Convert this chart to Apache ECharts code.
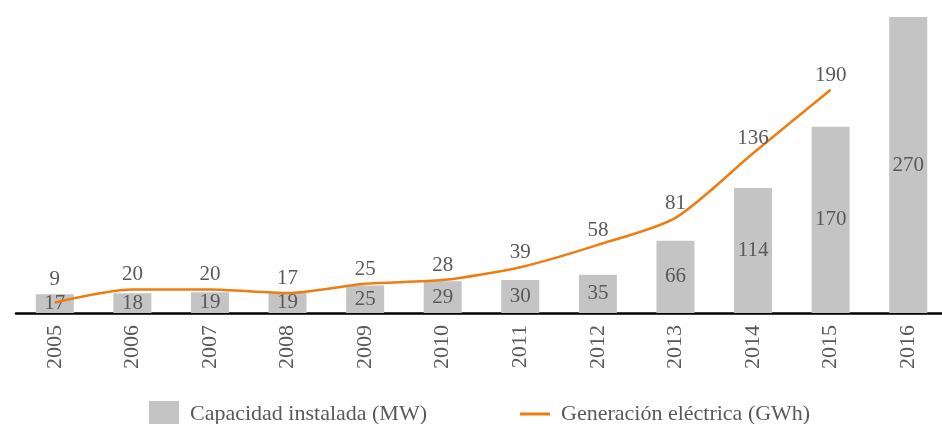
<!DOCTYPE html>
<html>
<head>
<meta charset="utf-8">
<script src="https://cdn.jsdelivr.net/npm/echarts@6/dist/echarts.min.js"></script>
<style>
html, body { margin: 0; padding: 0; background: #fff; }
#chart { width: 942px; height: 424px; }
</style>
</head>
<body>
<div id="chart"></div>
<script>
var years = ["2005", "2006", "2007", "2008", "2009", "2010", "2011", "2012", "2013", "2014", "2015", "2016"];
var capacidad = [17, 18, 19, 19, 25, 29, 30, 35, 66, 114, 170, 270];
var generacion = [9, 20, 20, 17, 25, 28, 39, 58, 81, 136, 190, null];

var font = "'Liberation Serif', 'DejaVu Serif', serif";
var txt = "#595959";
var naranja = "#EE7D11";

// first label sits a bit higher, clear of the bar label below it
var genData = generacion.map(function(v, i) {
	return i === 0 ? { value : v, label : { distance : 12 } } : v;
});

var chart = echarts.init(document.getElementById("chart"));
var option = {
	animation : false,
	textStyle : { fontFamily : font },
	grid : {
		left : 16,
		width : 931,
		top : 17,
		bottom : 111,
		outerBoundsMode : "none"
	},
	legend : {
		top : 396,
		left : 144,
		itemGap : 93,
		itemWidth : 30,
		itemHeight : 26,
		textStyle : { fontFamily : font, fontSize : 22, color : txt, padding : [0, 0, 0, 6] },
		data : [ {
			name : "Capacidad instalada (MW)",
			icon : "rect"
		}, {
			name : "Generación eléctrica (GWh)",
			icon : "path://M0,11.5 L30,11.5 L30,14.5 L0,14.5 Z",
			itemStyle : { color : naranja, opacity : 1 }
		} ]
	},
	xAxis : {
		type : "category",
		data : years,
		axisLine : { lineStyle : { color : "#000", width : 2.5 } },
		axisTick : { show : false },
		axisLabel : {
			rotate : 90,
			margin : 12,
			fontFamily : font,
			fontSize : 22,
			color : txt
		}
	},
	yAxis : [ {
		type : "value",
		min : 0,
		max : 270,
		show : false
	}, {
		type : "value",
		min : 0,
		max : 252,
		show : false
	} ],
	series : [ {
		name : "Capacidad instalada (MW)",
		type : "bar",
		data : capacidad,
		barWidth : "49%",
		itemStyle : { color : "#C4C4C4" },
		label : {
			show : true,
			position : "inside",
			fontFamily : font,
			fontSize : 21,
			color : txt
		}
	}, {
		name : "Generación eléctrica (GWh)",
		type : "line",
		yAxisIndex : 1,
		data : genData,
		smooth : 0.25,
		symbol : "circle",
		symbolSize : 0.1,
		showSymbol : true,
		lineStyle : { color : naranja, width : 2.5 },
		itemStyle : { color : naranja },
		label : {
			show : true,
			position : "top",
			distance : 4,
			fontFamily : font,
			fontSize : 21,
			color : txt
		}
	} ]
};
chart.setOption(option);
window.addEventListener("resize", chart.resize);
</script>
</body>
</html>
